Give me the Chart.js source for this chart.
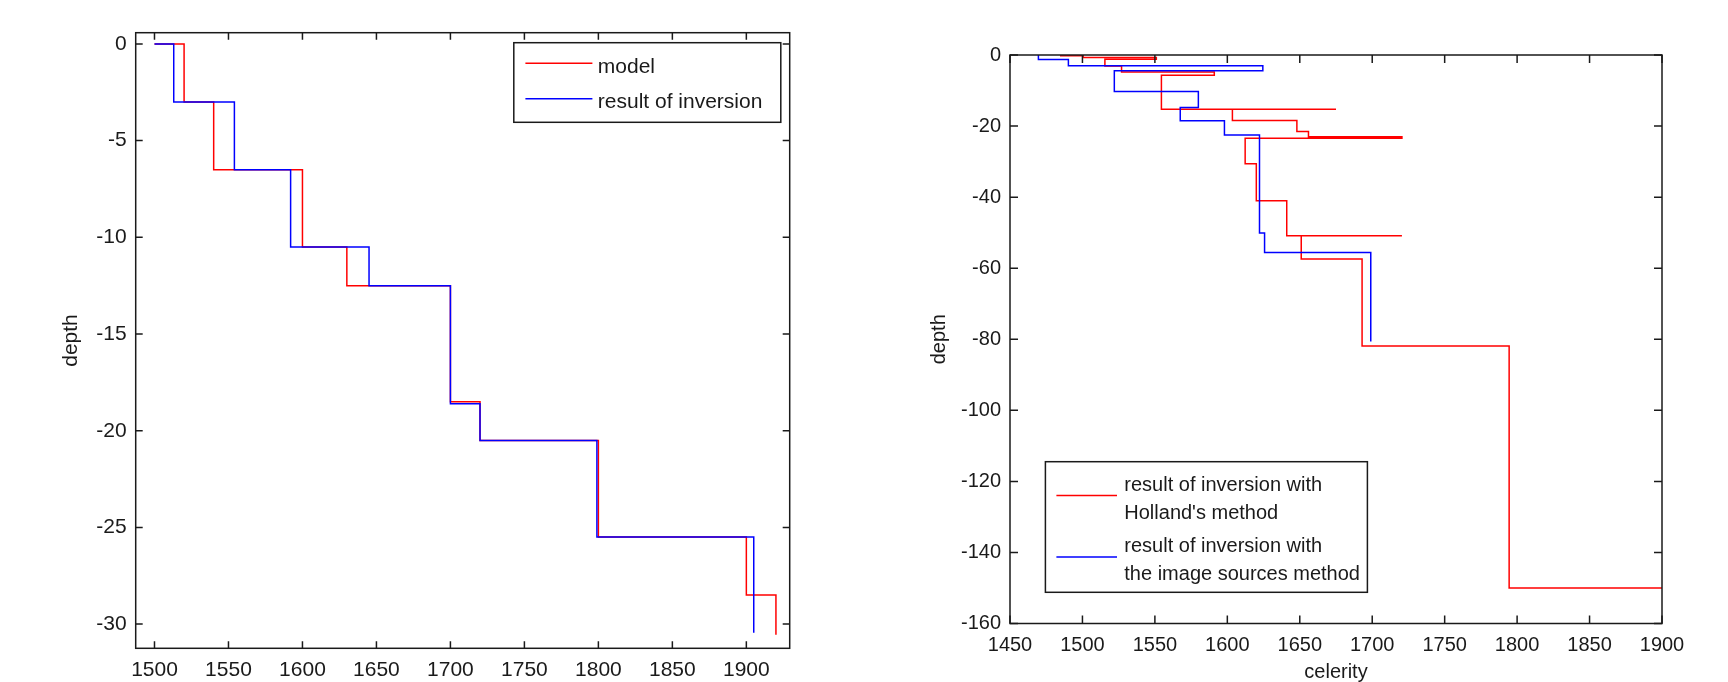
<!DOCTYPE html>
<html>
<head>
<meta charset="utf-8">
<script src="https://cdn.jsdelivr.net/npm/chart.js@4.4.1/dist/chart.umd.min.js"></script>
<style>
    html, body { margin: 0; padding: 0; background: #fff; }
    #wrap { position: relative; width: 1728px; height: 682px; overflow: hidden; }
    canvas { position: absolute; top: 0; }
    #leftChart { left: 0; }
    #rightChart { left: 864px; }
</style>
</head>
<body>
<div id="wrap">
    <canvas id="leftChart" width="864" height="682"></canvas>
    <canvas id="rightChart" width="864" height="682"></canvas>
</div>
<script>
// left figure: celerity of each layer, and layer boundaries (top of first .. bottom of last)
const modelCelerity = [1500, 1520, 1540, 1600, 1630, 1700, 1720, 1800, 1900, 1920];
const modelBounds = [0, 0, -3, -6.5, -10.5, -12.5, -18.5, -20.5, -25.5, -28.5, -30.55];
const inversionCelerity = [1500, 1513, 1554, 1592, 1645, 1700, 1720, 1799, 1905];
const inversionBounds = [0, 0, -3, -6.5, -10.5, -12.5, -18.6, -20.5, -25.5, -30.45];

const leftXTicks = [1500, 1550, 1600, 1650, 1700, 1750, 1800, 1850, 1900];
const leftYTicks = [0, -5, -10, -15, -20, -25, -30];

// right figure
const hollandCelerity = [1485, 1500.5, 1551, 1515.5, 1527, 1591, 1554.5, 1675, 1603.5, 1648,
    1656, 1720.5, 1612.3, 1620, 1641, 1720.5, 1651, 1693, 1794.5, 1900];
const hollandBounds = [0, -0.2, -0.7, -1.2, -3.1, -4.8, -5.7, -15.3, -15.3, -18.4, -21.5,
    -23.0, -23.4, -30.6, -41.0, -50.9, -50.9, -57.4, -81.9, -150, -150];
const sourcesCelerity = [1469.6, 1490.3, 1624.5, 1522, 1580, 1567.5, 1598, 1622.2, 1625.7, 1699];
const sourcesBounds = [0, -1.3, -3.0, -4.4, -10.3, -14.8, -18.5, -22.5, -50.1, -55.6, -80.6];

const rightXTicks = [1450, 1500, 1550, 1600, 1650, 1700, 1750, 1800, 1850, 1900];
const rightYTicks = [0, -20, -40, -60, -80, -100, -120, -140, -160];

const FONT = "'Liberation Sans', Arial, sans-serif";
const INK = "#1a1a1a";

Chart.defaults.font.family = FONT;
Chart.defaults.color = INK;

// vertical segment for each layer, horizontal jump to the next one
function stairs(celerity, bounds) {
    let pts = [];
    celerity.forEach(function(c, i) {
        pts.push({ x: c, y: bounds[i] });
        pts.push({ x: c, y: bounds[i + 1] });
    });
    return pts;
}

// matlab style box with inward ticks on all four sides
const boxAxes = {
    id: "boxAxes",
    afterDatasetsDraw(chart, args, opts) {
        let ctx = chart.ctx;
        let a = chart.chartArea;
        let xs = chart.scales.x, ys = chart.scales.y;
        let len = opts.tickLength;
        ctx.save();
        ctx.strokeStyle = INK;
        ctx.lineWidth = 1.5;
        ctx.beginPath();
        xs.ticks.forEach(function(t) {
            let px = xs.getPixelForValue(t.value);
            ctx.moveTo(px, a.bottom); ctx.lineTo(px, a.bottom - len);
            ctx.moveTo(px, a.top); ctx.lineTo(px, a.top + len);
        });
        ys.ticks.forEach(function(t) {
            let py = ys.getPixelForValue(t.value);
            ctx.moveTo(a.left, py); ctx.lineTo(a.left + len, py);
            ctx.moveTo(a.right, py); ctx.lineTo(a.right - len, py);
        });
        ctx.stroke();
        ctx.strokeRect(a.left, a.top, a.right - a.left, a.bottom - a.top);
        ctx.restore();
    }
};

const boxLegend = {
    id: "boxLegend",
    afterDraw(chart, args, o) {
        let ctx = chart.ctx;
        ctx.save();
        ctx.fillStyle = "#fff";
        ctx.fillRect(o.left, o.top, o.width, o.height);
        ctx.strokeStyle = INK;
        ctx.lineWidth = 1.5;
        ctx.strokeRect(o.left, o.top, o.width, o.height);
        ctx.font = o.fontSize + "px " + FONT;
        ctx.textBaseline = "middle";
        chart.data.datasets.forEach(function(ds, i) {
            let cy = o.rows[i];
            let lines = ds.label.split("\n");
            ctx.strokeStyle = ds.borderColor;
            ctx.lineWidth = ds.borderWidth;
            ctx.beginPath();
            ctx.moveTo(o.lineStart, cy - 3.7);
            ctx.lineTo(o.lineEnd, cy - 3.7);
            ctx.stroke();
            ctx.fillStyle = INK;
            lines.forEach(function(t, k) {
                ctx.fillText(t, o.textX, cy + (k - (lines.length - 1) / 2) * o.lineHeight);
            });
        });
        ctx.restore();
    }
};

function makeChart(id, setup) {
    let fontSize = setup.fontSize;
    return new Chart(document.getElementById(id), {
        type: "scatter",
        data: {
            datasets: setup.series.map(function(s) {
                return {
                    label: s.label,
                    data: stairs(s.celerity, s.bounds),
                    showLine: true,
                    borderColor: s.color,
                    backgroundColor: s.color,
                    borderWidth: 1.5,
                    pointRadius: 0,
                    tension: 0,
                    order: s.order,
                    clip: 3
                };
            })
        },
        options: {
            responsive: false,
            animation: false,
            devicePixelRatio: 1,
            layout: { padding: setup.padding },
            scales: {
                x: {
                    type: "linear",
                    min: setup.xRange[0],
                    max: setup.xRange[1],
                    grid: { display: false, drawTicks: false },
                    border: { display: false },
                    afterBuildTicks: function(s) { s.ticks = setup.xTicks.map(v => ({ value: v })); },
                    afterFit: function(s) { s.height = setup.xAxisHeight; },
                    ticks: {
                        autoSkip: false,
                        maxRotation: 0,
                        padding: setup.xTickPad,
                        font: { size: fontSize, lineHeight: 1 },
                        callback: v => String(v)
                    },
                    title: setup.xTitle ? {
                        display: true,
                        text: setup.xTitle,
                        font: { size: fontSize, lineHeight: 1 },
                        padding: { top: 0, bottom: 0 }
                    } : { display: false }
                },
                y: {
                    type: "linear",
                    min: setup.yRange[0],
                    max: setup.yRange[1],
                    grid: { display: false, drawTicks: false },
                    border: { display: false },
                    afterBuildTicks: function(s) { s.ticks = setup.yTicks.map(v => ({ value: v })); },
                    afterFit: function(s) { s.width = setup.yAxisWidth; },
                    ticks: {
                        autoSkip: false,
                        padding: 9,
                        font: { size: fontSize, lineHeight: 1 },
                        callback: v => String(v)
                    },
                    title: {
                        display: true,
                        text: "depth",
                        font: { size: fontSize, lineHeight: 1 },
                        padding: { top: setup.yTitlePad, bottom: 0 }
                    }
                }
            },
            plugins: {
                legend: { display: false },
                tooltip: { enabled: false },
                boxAxes: { tickLength: setup.tickLength },
                boxLegend: setup.legend
            }
        },
        plugins: [boxAxes, boxLegend]
    });
}

makeChart("leftChart", {
    fontSize: 21,
    series: [
        { label: "model", celerity: modelCelerity, bounds: modelBounds, color: "#ff0000", order: 1 },
        { label: "result of inversion", celerity: inversionCelerity, bounds: inversionBounds, color: "#0000ff", order: 0 }
    ],
    xRange: [1487.3, 1929.3],
    yRange: [-31.25, 0.58],
    xTicks: leftXTicks,
    yTicks: leftYTicks,
    padding: { left: 0, right: 74.3, top: 32.7, bottom: 0 },
    xAxisHeight: 33.7,
    yAxisWidth: 135.7,
    xTickPad: 11.5,
    yTitlePad: 61,
    tickLength: 7,
    legend: {
        left: 513.8, top: 42.7, width: 267, height: 79.6,
        lineStart: 525.4, lineEnd: 592.4, textX: 597.8,
        rows: [67, 102.5], lineHeight: 28, fontSize: 21
    }
});

makeChart("rightChart", {
    fontSize: 20,
    series: [
        { label: "result of inversion with\nHolland's method", celerity: hollandCelerity, bounds: hollandBounds, color: "#ff0000", order: 1 },
        { label: "result of inversion with\nthe image sources method", celerity: sourcesCelerity, bounds: sourcesBounds, color: "#0000ff", order: 0 }
    ],
    xRange: [1450, 1900],
    yRange: [-160, 0],
    xTicks: rightXTicks,
    yTicks: rightYTicks,
    xTitle: "celerity",
    padding: { left: 0, right: 66, top: 55, bottom: 0 },
    xAxisHeight: 58.5,
    yAxisWidth: 146,
    xTickPad: 12,
    yTitlePad: 65,
    tickLength: 8,
    legend: {
        left: 181.4, top: 461.7, width: 322, height: 130.6,
        lineStart: 192.4, lineEnd: 253, textX: 260.3,
        rows: [499.3, 560.8], lineHeight: 28.2, fontSize: 20
    }
});
</script>
</body>
</html>
